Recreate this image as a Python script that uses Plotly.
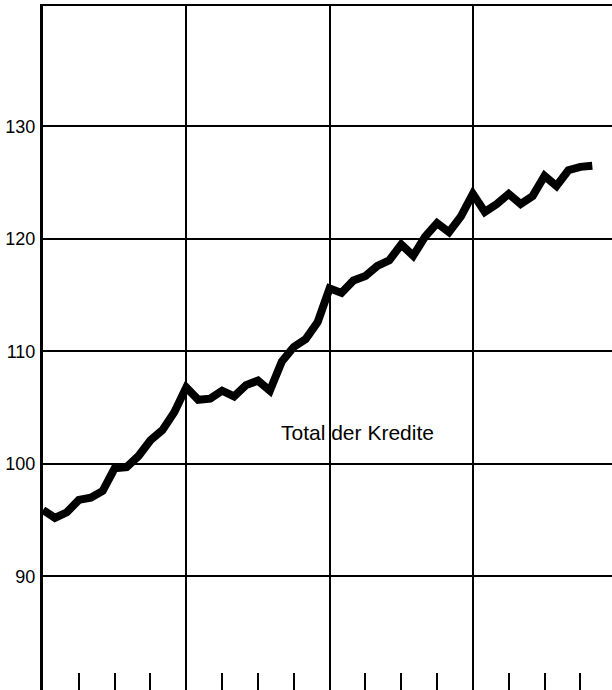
import plotly.graph_objects as go

# Monthly index (0 = first month shown), values of "Total der Kredite"
months = list(range(47))
kredite = [
    95.9, 95.2, 95.7, 96.8, 97.0, 97.6, 99.6, 99.7, 100.7, 102.1, 103.0, 104.6,
    106.8, 105.7, 105.8, 106.5, 106.0, 107.0, 107.4, 106.5, 109.1, 110.4, 111.1, 112.6,
    115.6, 115.2, 116.3, 116.7, 117.6, 118.1, 119.5, 118.5, 120.2, 121.4, 120.6, 122.0,
    124.0, 122.4, 123.1, 124.0, 123.1, 123.8, 125.6, 124.7, 126.1, 126.4, 126.5,
]
y_ticks = [90, 100, 110, 120, 130]
series_label = "Total der Kredite"

fig = go.Figure()
fig.add_trace(go.Scatter(
    x=months, y=kredite, mode="lines",
    line=dict(color="black", width=8),
    hoverinfo="skip", showlegend=False,
))

fig.add_annotation(
    x=26.3, y=102.75, xref="x", yref="y",
    text=series_label, showarrow=False,
    font=dict(family="Liberation Sans, Arial, sans-serif", size=21, color="black"),
)

fig.update_layout(
    width=612, height=690,
    margin=dict(l=43, r=0, t=6, b=0, pad=0, autoexpand=False),
    paper_bgcolor="white", plot_bgcolor="white",
    showlegend=False,
    font=dict(family="Liberation Sans, Arial, sans-serif", size=18, color="black"),
)

fig.update_xaxes(
    range=[0, 47.65], automargin=False,
    tickmode="linear", tick0=0, dtick=12,
    showticklabels=False, ticks="",
    showgrid=True, gridcolor="black", gridwidth=2,
    zeroline=False,
    showline=True, linecolor="black", linewidth=2, mirror=True,
    minor=dict(tickmode="linear", tick0=0, dtick=3, ticks="inside",
               ticklen=17, tickwidth=2, tickcolor="black", showgrid=False),
)

fig.update_yaxes(
    range=[79.9, 140.7], automargin=False,
    tickmode="array", tickvals=y_ticks,
    ticktext=[str(v) for v in y_ticks],
    ticks="", ticklabelstandoff=1,
    showgrid=True, gridcolor="black", gridwidth=2,
    zeroline=False,
    showline=True, linecolor="black", linewidth=3,
    tickfont=dict(size=18, color="black"),
)

fig.write_html(
    "out.html",
    config={"displayModeBar": False, "staticPlot": True},
    post_script="document.body.style.margin='0';document.body.style.overflow='hidden';",
)
